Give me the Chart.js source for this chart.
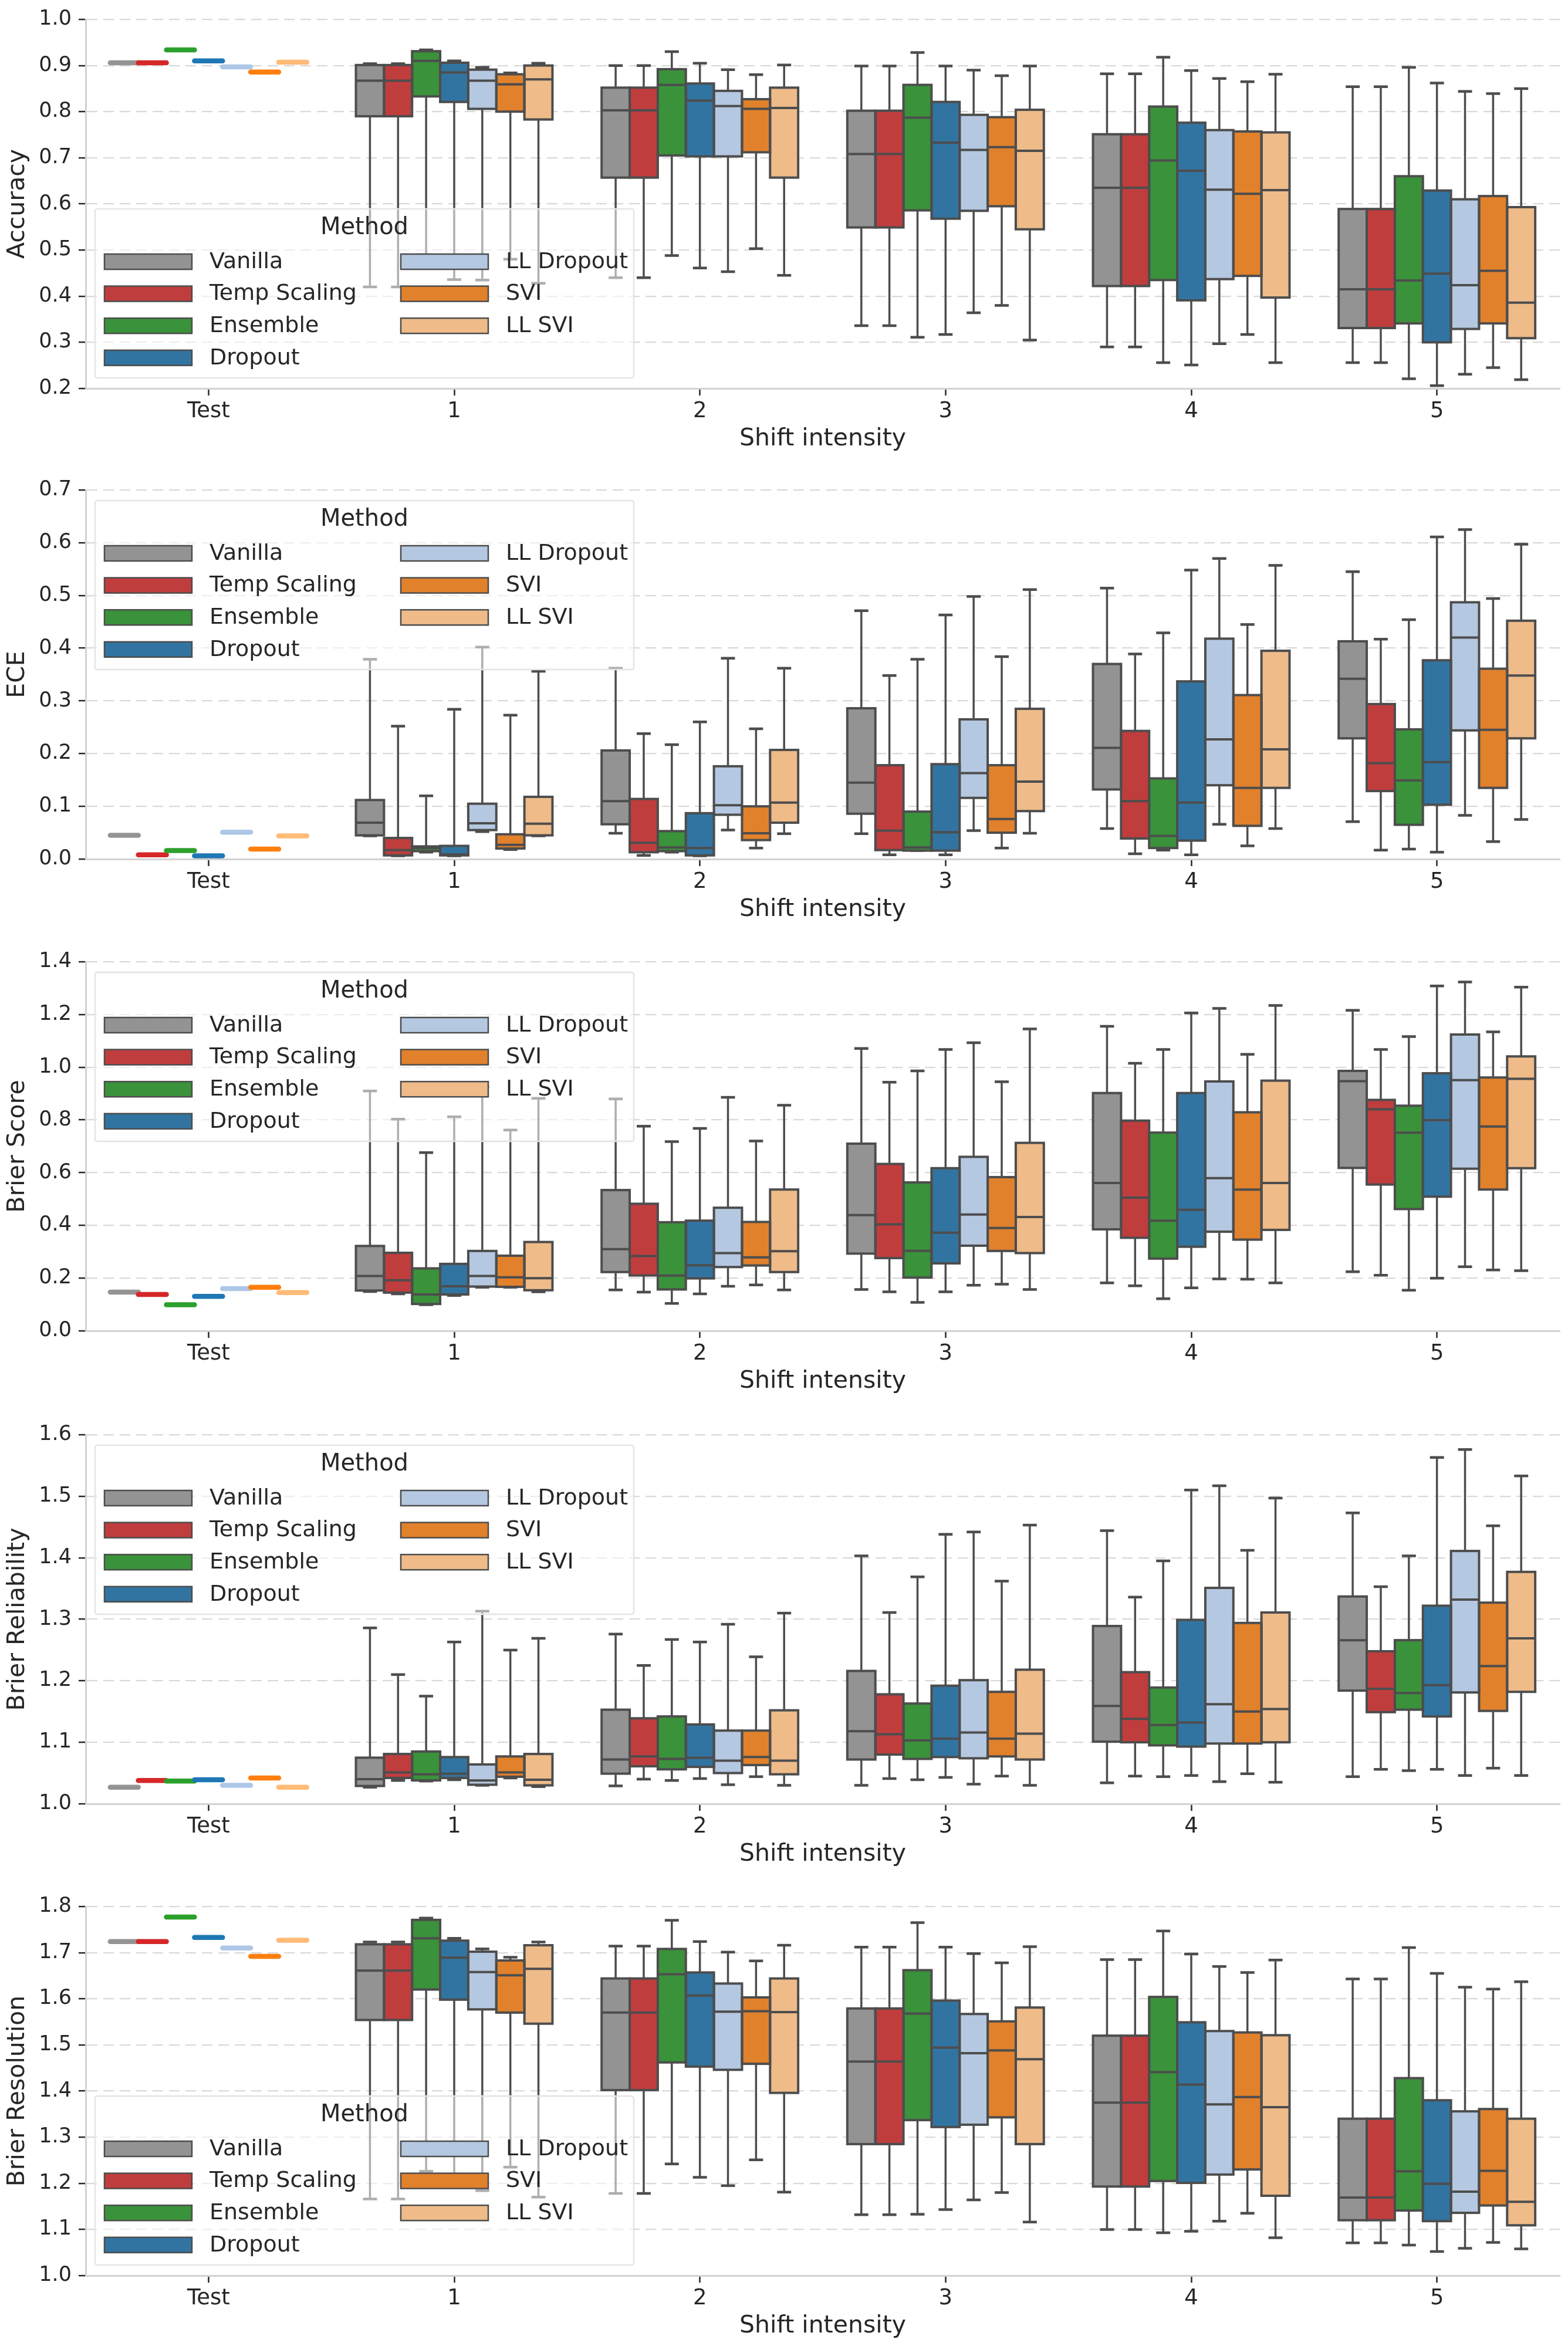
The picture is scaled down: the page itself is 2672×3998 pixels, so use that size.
<!DOCTYPE html>
<html>
<head>
<meta charset="utf-8">
<script src="https://cdn.jsdelivr.net/npm/chart.js@4.4.1/dist/chart.umd.min.js"></script>
<style>
    html, body { margin: 0; padding: 0; background: #fff; overflow: hidden; }
    #wrap { position: relative; width: 2672px; height: 3998px; overflow: hidden; }
    canvas { position: absolute; left: 0; }
</style>
</head>
<body>
<div id="wrap">
    <canvas id="c0" width="2672" height="785" style="top:0px"></canvas>
    <canvas id="c1" width="2672" height="785" style="top:802px"></canvas>
    <canvas id="c2" width="2672" height="785" style="top:1606px"></canvas>
    <canvas id="c3" width="2672" height="785" style="top:2412px"></canvas>
    <canvas id="c4" width="2672" height="785" style="top:3216px"></canvas>
</div>
<script>
const shiftLabels = ['Test', '1', '2', '3', '4', '5'];
const methods = ['Vanilla', 'Temp Scaling', 'Ensemble', 'Dropout', 'LL Dropout', 'SVI', 'LL SVI'];
const boxColors = ['#939393', '#c03d3e', '#3a923a', '#3274a1', '#b5c8e1', '#e1812c', '#eebb89'];
const testColors = ['#949494', '#d62728', '#2ca02c', '#1f77b4', '#aec7e8', '#ff7f0e', '#ffbb78'];

// one row per method, one entry per shift intensity 1..5: [whisker low, q1, median, q3, whisker high]
const accuracyTest = [0.906, 0.906, 0.934, 0.910, 0.897, 0.886, 0.907];
const accuracyBoxes = [
    [[0.420, 0.790, 0.867, 0.901, 0.904], [0.440, 0.657, 0.803, 0.852, 0.900], [0.336, 0.549, 0.708, 0.802, 0.899], [0.290, 0.422, 0.635, 0.751, 0.882], [0.256, 0.331, 0.415, 0.589, 0.854]],
    [[0.420, 0.790, 0.867, 0.901, 0.904], [0.440, 0.657, 0.803, 0.852, 0.900], [0.336, 0.549, 0.708, 0.802, 0.899], [0.290, 0.422, 0.635, 0.751, 0.882], [0.256, 0.331, 0.415, 0.589, 0.854]],
    [[0.490, 0.833, 0.910, 0.931, 0.934], [0.488, 0.705, 0.858, 0.892, 0.930], [0.311, 0.586, 0.787, 0.858, 0.928], [0.256, 0.435, 0.694, 0.811, 0.918], [0.221, 0.341, 0.434, 0.660, 0.896]],
    [[0.436, 0.821, 0.885, 0.906, 0.910], [0.461, 0.703, 0.824, 0.861, 0.905], [0.317, 0.568, 0.733, 0.821, 0.899], [0.251, 0.391, 0.672, 0.776, 0.889], [0.206, 0.300, 0.449, 0.629, 0.862]],
    [[0.435, 0.806, 0.867, 0.891, 0.896], [0.453, 0.703, 0.812, 0.845, 0.891], [0.364, 0.585, 0.717, 0.793, 0.890], [0.297, 0.437, 0.631, 0.760, 0.872], [0.231, 0.329, 0.424, 0.610, 0.844]],
    [[0.480, 0.800, 0.859, 0.881, 0.884], [0.503, 0.712, 0.806, 0.827, 0.880], [0.380, 0.595, 0.723, 0.788, 0.878], [0.317, 0.444, 0.622, 0.757, 0.865], [0.245, 0.341, 0.455, 0.617, 0.839]],
    [[0.428, 0.783, 0.870, 0.900, 0.905], [0.445, 0.657, 0.808, 0.852, 0.901], [0.305, 0.545, 0.715, 0.804, 0.899], [0.256, 0.397, 0.630, 0.755, 0.881], [0.219, 0.309, 0.386, 0.593, 0.850]]
];

const eceTest = [0.045, 0.008, 0.016, 0.006, 0.051, 0.019, 0.044];
const eceBoxes = [
    [[0.044, 0.045, 0.069, 0.112, 0.379], [0.049, 0.066, 0.110, 0.206, 0.362], [0.048, 0.086, 0.145, 0.286, 0.471], [0.058, 0.132, 0.211, 0.370, 0.514], [0.071, 0.229, 0.342, 0.413, 0.545]],
    [[0.006, 0.007, 0.017, 0.040, 0.252], [0.007, 0.013, 0.031, 0.114, 0.238], [0.008, 0.017, 0.054, 0.178, 0.348], [0.010, 0.039, 0.110, 0.243, 0.389], [0.017, 0.129, 0.182, 0.294, 0.417]],
    [[0.013, 0.015, 0.021, 0.024, 0.120], [0.013, 0.015, 0.022, 0.053, 0.217], [0.016, 0.016, 0.022, 0.090, 0.379], [0.017, 0.021, 0.044, 0.153, 0.429], [0.019, 0.065, 0.149, 0.246, 0.454]],
    [[0.006, 0.007, 0.009, 0.025, 0.284], [0.006, 0.007, 0.021, 0.087, 0.260], [0.008, 0.016, 0.051, 0.180, 0.463], [0.008, 0.035, 0.107, 0.337, 0.548], [0.013, 0.103, 0.184, 0.377, 0.611]],
    [[0.052, 0.055, 0.068, 0.105, 0.402], [0.055, 0.084, 0.102, 0.176, 0.381], [0.054, 0.116, 0.163, 0.265, 0.498], [0.066, 0.140, 0.227, 0.418, 0.570], [0.083, 0.244, 0.420, 0.487, 0.625]],
    [[0.018, 0.020, 0.027, 0.047, 0.273], [0.021, 0.036, 0.049, 0.100, 0.247], [0.021, 0.050, 0.076, 0.178, 0.384], [0.025, 0.063, 0.135, 0.311, 0.445], [0.033, 0.135, 0.245, 0.361, 0.494]],
    [[0.044, 0.045, 0.067, 0.118, 0.356], [0.048, 0.069, 0.107, 0.207, 0.362], [0.049, 0.091, 0.147, 0.285, 0.511], [0.058, 0.135, 0.208, 0.395, 0.557], [0.075, 0.229, 0.348, 0.452, 0.597]]
];

const brierTest = [0.147, 0.138, 0.099, 0.131, 0.160, 0.165, 0.145];
const brierBoxes = [
    [[0.149, 0.153, 0.208, 0.322, 0.910], [0.155, 0.223, 0.310, 0.534, 0.880], [0.157, 0.293, 0.439, 0.710, 1.071], [0.182, 0.385, 0.561, 0.902, 1.155], [0.224, 0.618, 0.947, 0.986, 1.216]],
    [[0.140, 0.145, 0.192, 0.296, 0.803], [0.147, 0.210, 0.284, 0.482, 0.776], [0.148, 0.276, 0.404, 0.633, 0.943], [0.171, 0.353, 0.505, 0.797, 1.015], [0.211, 0.555, 0.840, 0.876, 1.067]],
    [[0.099, 0.102, 0.138, 0.237, 0.676], [0.104, 0.157, 0.210, 0.412, 0.718], [0.108, 0.202, 0.303, 0.563, 0.986], [0.122, 0.274, 0.418, 0.752, 1.067], [0.154, 0.462, 0.752, 0.854, 1.116]],
    [[0.134, 0.138, 0.169, 0.254, 0.812], [0.140, 0.199, 0.249, 0.418, 0.768], [0.148, 0.256, 0.372, 0.617, 1.067], [0.163, 0.319, 0.459, 0.902, 1.206], [0.200, 0.509, 0.799, 0.977, 1.308]],
    [[0.165, 0.168, 0.208, 0.303, 0.925], [0.169, 0.242, 0.295, 0.467, 0.886], [0.173, 0.323, 0.441, 0.660, 1.093], [0.197, 0.376, 0.579, 0.946, 1.223], [0.243, 0.615, 0.951, 1.124, 1.323]],
    [[0.165, 0.167, 0.203, 0.285, 0.762], [0.174, 0.248, 0.279, 0.413, 0.720], [0.177, 0.303, 0.390, 0.583, 0.945], [0.196, 0.346, 0.536, 0.829, 1.049], [0.231, 0.536, 0.775, 0.961, 1.134]],
    [[0.148, 0.154, 0.200, 0.337, 0.882], [0.155, 0.223, 0.302, 0.536, 0.856], [0.157, 0.295, 0.432, 0.713, 1.145], [0.182, 0.383, 0.561, 0.949, 1.234], [0.228, 0.617, 0.956, 1.041, 1.304]]
];

const reliabilityTest = [1.027, 1.038, 1.037, 1.039, 1.030, 1.042, 1.027];
const reliabilityBoxes = [
    [[1.027, 1.029, 1.040, 1.075, 1.286], [1.029, 1.049, 1.072, 1.153, 1.276], [1.030, 1.072, 1.118, 1.216, 1.403], [1.034, 1.101, 1.159, 1.289, 1.444], [1.044, 1.184, 1.266, 1.337, 1.473]],
    [[1.038, 1.042, 1.051, 1.081, 1.210], [1.040, 1.061, 1.077, 1.139, 1.225], [1.041, 1.080, 1.113, 1.178, 1.311], [1.045, 1.100, 1.138, 1.214, 1.336], [1.056, 1.149, 1.187, 1.248, 1.353]],
    [[1.037, 1.038, 1.048, 1.085, 1.175], [1.038, 1.056, 1.073, 1.142, 1.267], [1.039, 1.073, 1.103, 1.163, 1.369], [1.044, 1.095, 1.128, 1.189, 1.395], [1.054, 1.153, 1.180, 1.266, 1.403]],
    [[1.039, 1.042, 1.049, 1.076, 1.263], [1.041, 1.060, 1.075, 1.129, 1.263], [1.043, 1.076, 1.106, 1.192, 1.438], [1.046, 1.093, 1.132, 1.299, 1.510], [1.056, 1.142, 1.193, 1.322, 1.563]],
    [[1.030, 1.031, 1.038, 1.064, 1.313], [1.031, 1.050, 1.070, 1.119, 1.292], [1.032, 1.074, 1.116, 1.201, 1.442], [1.036, 1.098, 1.162, 1.351, 1.517], [1.046, 1.181, 1.332, 1.411, 1.576]],
    [[1.042, 1.044, 1.051, 1.077, 1.250], [1.044, 1.063, 1.076, 1.119, 1.239], [1.045, 1.077, 1.106, 1.182, 1.362], [1.049, 1.098, 1.150, 1.294, 1.412], [1.058, 1.151, 1.224, 1.327, 1.452]],
    [[1.028, 1.030, 1.039, 1.081, 1.269], [1.030, 1.048, 1.070, 1.152, 1.310], [1.030, 1.072, 1.114, 1.218, 1.453], [1.035, 1.100, 1.154, 1.311, 1.497], [1.046, 1.182, 1.269, 1.377, 1.533]]
];

const resolutionTest = [1.724, 1.724, 1.777, 1.733, 1.710, 1.692, 1.727];
const resolutionBoxes = [
    [[1.166, 1.554, 1.661, 1.718, 1.723], [1.178, 1.402, 1.570, 1.644, 1.714], [1.132, 1.285, 1.464, 1.579, 1.712], [1.100, 1.193, 1.375, 1.520, 1.685], [1.071, 1.120, 1.169, 1.340, 1.643]],
    [[1.166, 1.554, 1.661, 1.718, 1.723], [1.178, 1.402, 1.570, 1.644, 1.714], [1.132, 1.285, 1.464, 1.579, 1.712], [1.100, 1.193, 1.375, 1.520, 1.685], [1.071, 1.120, 1.169, 1.340, 1.643]],
    [[1.226, 1.620, 1.731, 1.771, 1.775], [1.242, 1.462, 1.653, 1.708, 1.770], [1.133, 1.337, 1.568, 1.662, 1.765], [1.093, 1.205, 1.441, 1.604, 1.747], [1.066, 1.141, 1.226, 1.428, 1.711]],
    [[1.220, 1.598, 1.689, 1.726, 1.731], [1.213, 1.453, 1.607, 1.657, 1.724], [1.143, 1.322, 1.494, 1.596, 1.712], [1.096, 1.201, 1.414, 1.549, 1.697], [1.052, 1.118, 1.199, 1.380, 1.655]],
    [[1.184, 1.577, 1.658, 1.702, 1.708], [1.195, 1.446, 1.572, 1.633, 1.701], [1.164, 1.327, 1.482, 1.567, 1.698], [1.118, 1.219, 1.371, 1.530, 1.670], [1.059, 1.136, 1.182, 1.356, 1.625]],
    [[1.235, 1.570, 1.651, 1.683, 1.690], [1.251, 1.459, 1.573, 1.603, 1.682], [1.180, 1.343, 1.488, 1.551, 1.678], [1.135, 1.230, 1.387, 1.527, 1.657], [1.072, 1.152, 1.227, 1.361, 1.621]],
    [[1.170, 1.546, 1.665, 1.716, 1.723], [1.181, 1.396, 1.571, 1.644, 1.716], [1.116, 1.285, 1.469, 1.581, 1.713], [1.082, 1.173, 1.365, 1.521, 1.684], [1.058, 1.109, 1.160, 1.340, 1.637]]
];

const FONT = '"DejaVu Sans", "Liberation Sans", sans-serif';
const EDGE = '#4d4d4d';
const TEXT = '#262626';

// whiskers under the boxes, outlines + medians + test markers on top, legend last
const boxPlotPlugin = {
    id: 'boxPlot',
    beforeDatasetsDraw(chart) {
        const ctx = chart.ctx;
        const yScale = chart.scales.y;
        ctx.save();
        ctx.strokeStyle = EDGE;
        chart.data.datasets.forEach((ds, d) => {
            const meta = chart.getDatasetMeta(d);
            ds.stats.forEach((s, k) => {
                const el = meta.data[k + 1];
                const x = el.x, w = el.width;
                const lo = yScale.getPixelForValue(s[0]);
                const q1 = yScale.getPixelForValue(s[1]);
                const q3 = yScale.getPixelForValue(s[3]);
                const hi = yScale.getPixelForValue(s[4]);
                ctx.lineWidth = 3.5;
                ctx.beginPath();
                ctx.moveTo(x, q3); ctx.lineTo(x, hi);
                ctx.moveTo(x, q1); ctx.lineTo(x, lo);
                ctx.stroke();
                ctx.lineWidth = 4.5;
                ctx.beginPath();
                ctx.moveTo(x - w / 4, hi); ctx.lineTo(x + w / 4, hi);
                ctx.moveTo(x - w / 4, lo); ctx.lineTo(x + w / 4, lo);
                ctx.stroke();
            });
        });
        ctx.restore();
    },
    afterDatasetsDraw(chart) {
        const ctx = chart.ctx;
        const yScale = chart.scales.y;
        const xScale = chart.scales.x;
        const groupStep = xScale.getPixelForValue(1) - xScale.getPixelForValue(0);
        ctx.save();
        ctx.strokeStyle = EDGE;
        ctx.lineWidth = 4;
        chart.data.datasets.forEach((ds, d) => {
            const meta = chart.getDatasetMeta(d);
            ds.stats.forEach((s, k) => {
                const el = meta.data[k + 1];
                const x = el.x, w = el.width;
                const q1 = yScale.getPixelForValue(s[1]);
                const med = yScale.getPixelForValue(s[2]);
                const q3 = yScale.getPixelForValue(s[3]);
                ctx.strokeRect(x - w / 2, q3, w, q1 - q3);
                ctx.beginPath();
                ctx.moveTo(x - w / 2, med); ctx.lineTo(x + w / 2, med);
                ctx.stroke();
            });
        });
        // test set: one value per method, drawn as a short rounded line
        ctx.lineCap = 'round';
        ctx.lineWidth = 8.5;
        chart.data.datasets.forEach((ds, d) => {
            const el = chart.getDatasetMeta(d).data[1];
            const x = el.x - groupStep, w = el.width;
            const y = yScale.getPixelForValue(ds.test);
            ctx.strokeStyle = ds.testColor;
            ctx.beginPath();
            ctx.moveTo(x - w / 2, y); ctx.lineTo(x + w / 2, y);
            ctx.stroke();
        });
        ctx.restore();
    },
    afterDraw(chart) {
        const ctx = chart.ctx;
        const area = chart.chartArea;
        const pos = chart.options.plugins.boxPlot.legend;
        const w = 918, h = 288;
        const left = area.left + 16;
        const top = pos === 'top' ? area.top + 18 : area.bottom - 18 - h;
        ctx.save();
        ctx.fillStyle = 'rgba(255,255,255,0.55)';
        ctx.strokeStyle = '#e4e4e4';
        ctx.lineWidth = 2.5;
        ctx.beginPath();
        ctx.roundRect(left, top, w, h, 4);
        ctx.fill();
        ctx.stroke();
        ctx.fillStyle = TEXT;
        ctx.textBaseline = 'middle';
        ctx.textAlign = 'center';
        ctx.font = '40px ' + FONT;
        ctx.fillText('Method', left + w / 2, top + 33);
        ctx.textAlign = 'left';
        ctx.font = '38px ' + FONT;
        chart.data.datasets.forEach((ds, k) => {
            const col = Math.floor(k / 4), row = k % 4;
            const sx = left + 16 + col * 505;
            const cy = top + 90 + row * 54.6;
            ctx.fillStyle = ds.backgroundColor;
            ctx.fillRect(sx, cy - 13, 149, 26);
            ctx.strokeStyle = EDGE;
            ctx.lineWidth = 2.5;
            ctx.strokeRect(sx, cy - 13, 149, 26);
            ctx.fillStyle = TEXT;
            ctx.fillText(ds.label, sx + 179, cy + 1);
        });
        ctx.restore();
    }
};

function CreatePanel(id, title, yMin, yMax, step, boxes, test, legendPos) {
    const ctx = document.getElementById(id);
    const datasets = methods.map((m, d) => ({
        label: m,
        data: [null].concat(boxes[d].map(b => [b[1], b[3]])),
        stats: boxes[d],
        test: test[d],
        testColor: testColors[d],
        backgroundColor: boxColors[d],
        borderWidth: 0,
        barPercentage: 1.0,
        categoryPercentage: 0.8
    }));

    new Chart(ctx, {
        type: 'bar',
        data: {
            labels: shiftLabels,
            datasets: datasets
        },
        plugins: [boxPlotPlugin],
        options: {
            responsive: false,
            animation: false,
            devicePixelRatio: 1,
            events: [],
            layout: {
                padding: { top: 30, right: 14, left: 0, bottom: 0 }
            },
            scales: {
                x: {
                    offset: true,
                    afterFit: function (scale) { scale.height = 123; },
                    grid: {
                        display: true,
                        drawOnChartArea: false,
                        drawTicks: true,
                        offset: false,
                        tickLength: 12,
                        tickWidth: 2.5,
                        tickColor: TEXT
                    },
                    border: { display: true, color: '#d2d2d2', width: 3 },
                    ticks: {
                        padding: 5,
                        color: TEXT,
                        font: { family: FONT, size: 37 }
                    },
                    title: {
                        display: true,
                        text: 'Shift intensity',
                        color: TEXT,
                        padding: { top: 0, bottom: 12 },
                        font: { family: FONT, size: 41 }
                    }
                },
                y: {
                    min: yMin,
                    max: yMax,
                    afterFit: function (scale) { scale.width = 146; },
                    grid: {
                        color: '#d9d9d9',
                        lineWidth: 2.2,
                        drawTicks: true,
                        tickLength: 12,
                        tickWidth: 2.5,
                        tickColor: TEXT,
                        tickBorderDash: []
                    },
                    border: { display: true, color: '#d2d2d2', width: 3, dash: [18, 10] },
                    ticks: {
                        stepSize: step,
                        padding: 12,
                        color: TEXT,
                        font: { family: FONT, size: 35 },
                        callback: function (v) { return v.toFixed(1); }
                    },
                    title: {
                        display: true,
                        text: title,
                        color: TEXT,
                        padding: { top: 6, bottom: 0 },
                        font: { family: FONT, size: 41 }
                    }
                }
            },
            plugins: {
                legend: { display: false },
                tooltip: { enabled: false },
                boxPlot: { legend: legendPos }
            }
        }
    });
}

CreatePanel('c0', 'Accuracy', 0.2, 1.0, 0.1, accuracyBoxes, accuracyTest, 'bottom');
CreatePanel('c1', 'ECE', 0.0, 0.7, 0.1, eceBoxes, eceTest, 'top');
CreatePanel('c2', 'Brier Score', 0.0, 1.4, 0.2, brierBoxes, brierTest, 'top');
CreatePanel('c3', 'Brier Reliability', 1.0, 1.6, 0.1, reliabilityBoxes, reliabilityTest, 'top');
CreatePanel('c4', 'Brier Resolution', 1.0, 1.8, 0.1, resolutionBoxes, resolutionTest, 'bottom');
</script>
</body>
</html>
